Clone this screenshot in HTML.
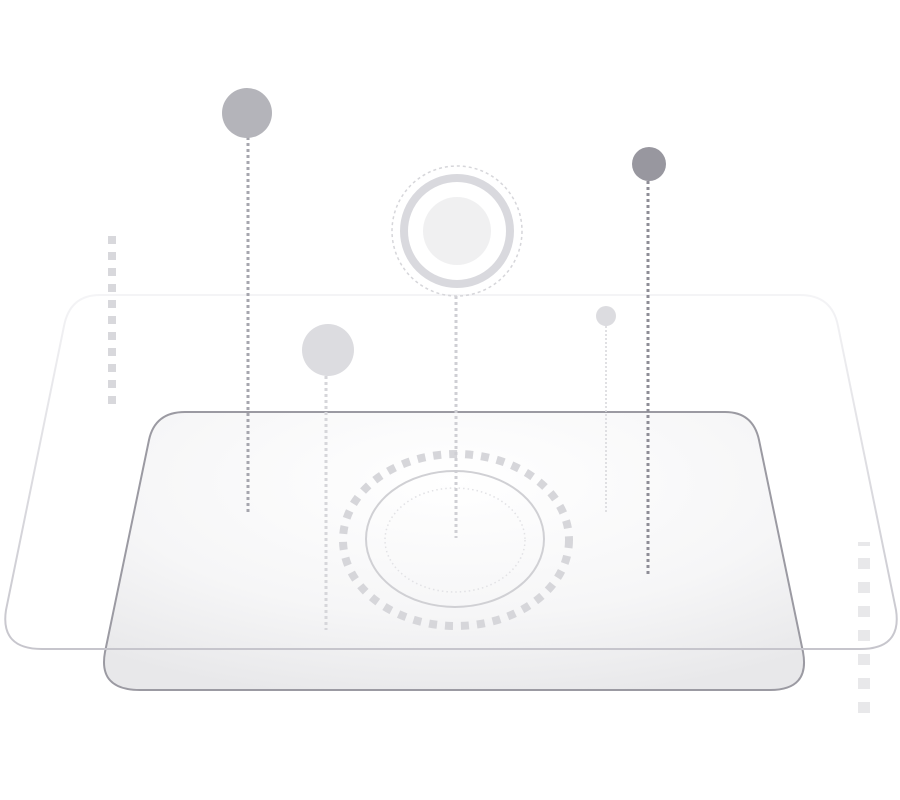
<!DOCTYPE html>
<html><head><style>html,body{margin:0;padding:0;background:#fff}svg{display:block}</style></head>
<body>
<svg width="900" height="800" viewBox="0 0 900 800" xmlns="http://www.w3.org/2000/svg">
<defs>
<linearGradient id="og" x1="0" y1="0" x2="0" y2="1">
<stop offset="0" stop-color="#f4f4f6"/><stop offset="1" stop-color="#c6c5cc"/></linearGradient>
<radialGradient id="ig" cx="0.5" cy="0.25" r="0.8">
<stop offset="0" stop-color="#ffffff"/><stop offset="0.6" stop-color="#f6f6f7"/><stop offset="1" stop-color="#e8e8ea"/></radialGradient>
</defs>
<!-- inner plane -->
<path d="M185 412 L725 412 Q753 412 759 440 L803 652 Q810 690 770 690 L140 690 Q98 690 105 652 L149 440 Q155 412 185 412 Z" fill="url(#ig)" stroke="#9b9aa2" stroke-width="2"/>
<!-- outer plane on top -->
<path d="M100 295 L800 295 Q832 295 838 326 L896 610 Q902 649 860 649 L42 649 Q0 649 6 610 L64 326 Q70 295 100 295 Z" fill="none" stroke="url(#og)" stroke-width="2"/>
<!-- left squares -->
<g fill="#d8d8dc">
<rect x="108" y="236" width="8" height="8"/><rect x="108" y="252" width="8" height="8"/><rect x="108" y="268" width="8" height="8"/><rect x="108" y="284" width="8" height="8"/><rect x="108" y="300" width="8" height="8"/><rect x="108" y="316" width="8" height="8"/><rect x="108" y="332" width="8" height="8"/><rect x="108" y="348" width="8" height="8"/><rect x="108" y="364" width="8" height="8"/><rect x="108" y="380" width="8" height="8"/><rect x="108" y="396" width="8" height="8"/>
</g>
<g fill="#e8e8ea">
<rect x="858" y="542" width="12" height="4"/><rect x="858" y="558" width="12" height="11"/><rect x="858" y="582" width="12" height="11"/><rect x="858" y="606" width="12" height="11"/><rect x="858" y="630" width="12" height="11"/><rect x="858" y="654" width="12" height="11"/><rect x="858" y="678" width="12" height="11"/><rect x="858" y="702" width="12" height="11"/>
</g>
<!-- ellipses -->
<ellipse cx="456" cy="540" rx="113" ry="86" fill="none" stroke="#d6d6da" stroke-width="8" stroke-dasharray="8 8"/>
<ellipse cx="455" cy="539" rx="89" ry="68" fill="none" stroke="#d0d0d4" stroke-width="2"/>
<ellipse cx="455" cy="540" rx="70" ry="52" fill="none" stroke="#e2e2e5" stroke-width="1.5" stroke-dasharray="1.5 3"/>
<!-- pins -->
<line x1="248" y1="137" x2="248" y2="512" stroke="#a6a6ae" stroke-width="3" stroke-dasharray="3 3"/>
<circle cx="247" cy="113" r="25" fill="#b4b4ba"/>
<line x1="326" y1="376" x2="326" y2="630" stroke="#d6d6da" stroke-width="3" stroke-dasharray="3 3"/>
<circle cx="328" cy="350" r="26" fill="#dcdce0"/>
<line x1="456" y1="296" x2="456" y2="538" stroke="#cfcfd4" stroke-width="3" stroke-dasharray="3 3"/>
<circle cx="457" cy="231" r="65" fill="none" stroke="#d6d6da" stroke-width="1.5" stroke-dasharray="3 3"/>
<circle cx="457" cy="231" r="53" fill="#fff" stroke="#d9d9de" stroke-width="8"/>
<circle cx="457" cy="231" r="34" fill="#f0f0f1"/>
<line x1="606" y1="326" x2="606" y2="512" stroke="#d6d6da" stroke-width="1.5" stroke-dasharray="2 2"/>
<circle cx="606" cy="316" r="10" fill="#dcdce0"/>
<line x1="648" y1="181" x2="648" y2="574" stroke="#8e8d96" stroke-width="3" stroke-dasharray="3 3"/>
<circle cx="649" cy="164" r="17" fill="#98979f"/>
</svg>
</body></html>
